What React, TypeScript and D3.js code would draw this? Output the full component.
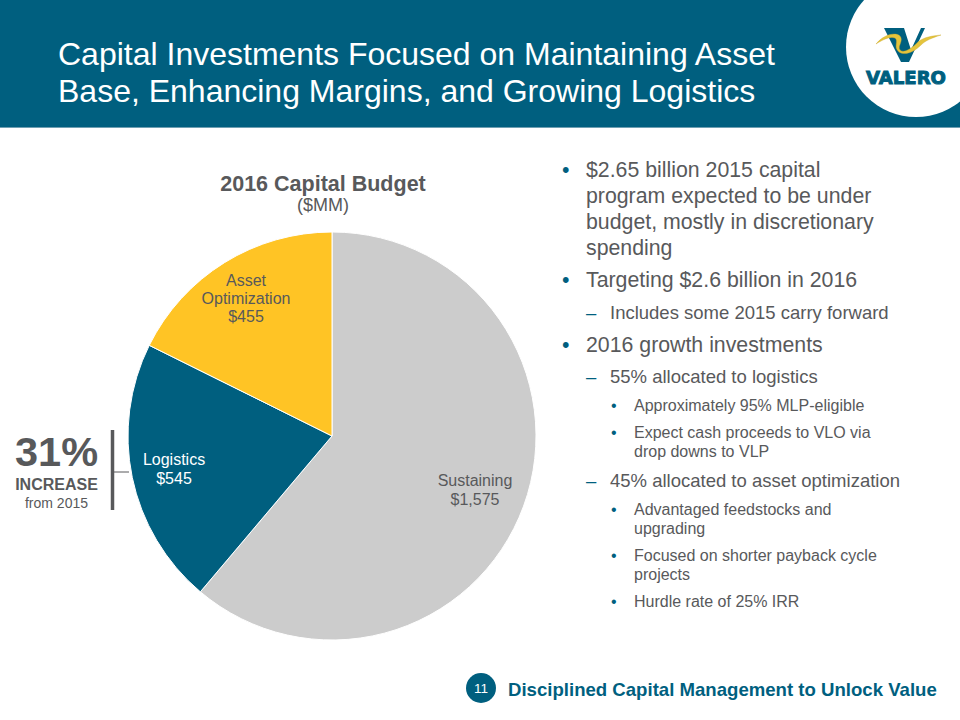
import React from "react";
import * as d3 from "d3";

const categories = ["Sustaining", "Logistics", "Asset Optimization"];
const budgetValues = [1575, 545, 455];
const sliceColors = ["#cccccc", "#005f7f", "#ffc425"];
const titleLines = ["Capital Investments Focused on Maintaining Asset", "Base, Enhancing Margins, and Growing Logistics"];
const bullets: [number, string[]][] = [
  [1, ["$2.65 billion 2015 capital", "program expected to be under", "budget, mostly in discretionary", "spending"]],
  [1, ["Targeting $2.6 billion in 2016"]],
  [2, ["Includes some 2015 carry forward"]],
  [1, ["2016 growth investments"]],
  [2, ["55% allocated to logistics"]],
  [3, ["Approximately 95% MLP-eligible"]],
  [3, ["Expect cash proceeds to VLO via", "drop downs to VLP"]],
  [2, ["45% allocated to asset optimization"]],
  [3, ["Advantaged feedstocks and", "upgrading"]],
  [3, ["Focused on shorter payback cycle", "projects"]],
  [3, ["Hurdle rate of 25% IRR"]],
];
const bulletTops = [170, 280, 313, 345, 377, 406, 433, 481, 510, 556, 602];

const FONT = "Liberation Sans, Arial, sans-serif";
const TEAL = "#005f7f";
const GREY = "#58595b";

export default function App() {
  const pie = d3.pie<number>().sort(null)(budgetValues);
  const arc = d3.arc<d3.PieArcDatum<number>>().innerRadius(0).outerRadius(204);
  const levelStyle: Record<number, { x: number; tx: number; size: number; lh: number; mark: string }> = {
    1: { x: 562, tx: 586, size: 21.3, lh: 26, mark: "•" },
    2: { x: 586, tx: 610, size: 18.5, lh: 22, mark: "–" },
    3: { x: 611, tx: 634, size: 16, lh: 19, mark: "•" },
  };
  return (
    <svg width={960} height={720} style={{ position: "absolute", left: 0, top: 0, background: "#fff" }} fontFamily={FONT}>
      <rect x={0} y={0} width={960} height={128} fill={TEAL} />
      <rect x={0} y={127} width={960} height={1} fill="#6f9fb2" />
      <defs>
        <clipPath id="head"><rect x={0} y={0} width={960} height={128} /></clipPath>
      </defs>
      <circle cx={916} cy={47} r={70} fill="#fff" clipPath="url(#head)" />
      <path d="M884 28 H904 L911 50 L921 28 H925 L909 62 H901 Z" fill={TEAL} />
      <path d="M876 44 C884 34 896 32 900 36 C904 41 897 46 900 50 C904 54 912 48 918 42 C924 37 932 36 941 35 C932 38 926 40 921 45 C914 52 905 56 899 52 C893 47 899 41 895 38 C890 36 882 40 876 44 Z" fill="#e5c43c" stroke="#c9a92e" strokeWidth={0.4} />
      <text x={866} y={84} fontSize={18.5} fontWeight={700} fill={TEAL} stroke={TEAL} strokeWidth={1} textLength={80} lengthAdjust="spacingAndGlyphs" fontFamily="DejaVu Sans, sans-serif">VALERO</text>

      {titleLines.map((t, i) => (
        <text key={t} x={58} y={65 + i * 37} fontSize={32} fill="#ffffff">{t}</text>
      ))}

      <text x={323} y={191} textAnchor="middle" fontSize={21.5} fontWeight={700} fill={GREY}>2016 Capital Budget</text>
      <text x={323} y={211} textAnchor="middle" fontSize={18} fill={GREY}>($MM)</text>

      <g transform="translate(332,436)">
        {pie.map((d, i) => (
          <path key={categories[i]} d={arc(d) ?? ""} fill={sliceColors[i]} stroke="#ffffff" strokeWidth={1} />
        ))}
      </g>

      <text x={475} y={486} textAnchor="middle" fontSize={16} fill={GREY}>Sustaining</text>
      <text x={475} y={505} textAnchor="middle" fontSize={16} fill={GREY}>$1,575</text>
      <text x={174} y={465} textAnchor="middle" fontSize={16} fill="#fff">Logistics</text>
      <text x={174} y={484} textAnchor="middle" fontSize={16} fill="#fff">$545</text>
      <text x={246} y={286} textAnchor="middle" fontSize={16} fill={GREY}>Asset</text>
      <text x={246} y={304} textAnchor="middle" fontSize={16} fill={GREY}>Optimization</text>
      <text x={246} y={322} textAnchor="middle" fontSize={16} fill={GREY}>$455</text>

      <text x={56.5} y={466} textAnchor="middle" fontSize={41.5} fontWeight={700} fill={GREY}>31%</text>
      <text x={56.5} y={490} textAnchor="middle" fontSize={16} fontWeight={700} fill={GREY}>INCREASE</text>
      <text x={56.5} y={508} textAnchor="middle" fontSize={14} fill={GREY}>from 2015</text>
      <line x1={112.5} x2={112.5} y1={430} y2={510} stroke={GREY} strokeWidth={3.5} />
      <line x1={113} x2={129} y1={472} y2={472} stroke={GREY} strokeWidth={1} />

      {bullets.map(([level, lines], i) => {
        const s = levelStyle[level];
        const top = bulletTops[i] + (level === 1 ? 7 : level === 2 ? 6 : 5);
        return (
          <g key={lines[0]} fill={GREY} fontSize={s.size}>
            <text x={s.x} y={top} fill={TEAL}>{s.mark}</text>
            {lines.map((l, j) => (
              <text key={l} x={s.tx} y={top + j * s.lh}>{l}</text>
            ))}
          </g>
        );
      })}

      <circle cx={481} cy={688} r={15} fill={TEAL} />
      <text x={481} y={693} textAnchor="middle" fontSize={13.5} fill="#fff">11</text>
      <text x={508} y={696} fontSize={18.6} fontWeight={700} fill={TEAL}>Disciplined Capital Management to Unlock Value</text>
    </svg>
  );
}
